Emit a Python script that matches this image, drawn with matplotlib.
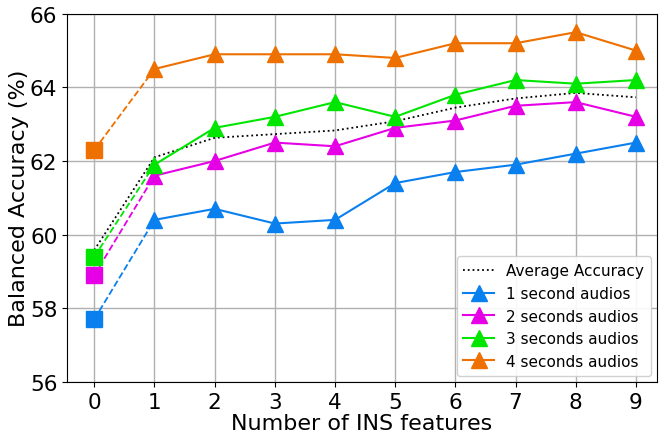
import matplotlib
matplotlib.use("Agg")
import matplotlib.pyplot as plt

# Number of INS features
n_features = [0, 1, 2, 3, 4, 5, 6, 7, 8, 9]

acc_1s = [57.7, 60.4, 60.7, 60.3, 60.4, 61.4, 61.7, 61.9, 62.2, 62.5]
acc_2s = [58.9, 61.6, 62.0, 62.5, 62.4, 62.9, 63.1, 63.5, 63.6, 63.2]
acc_3s = [59.4, 61.9, 62.9, 63.2, 63.6, 63.2, 63.8, 64.2, 64.1, 64.2]
acc_4s = [62.3, 64.5, 64.9, 64.9, 64.9, 64.8, 65.2, 65.2, 65.5, 65.0]
acc_avg = [59.58, 62.10, 62.63, 62.73, 62.83, 63.08, 63.45, 63.70, 63.85, 63.73]

labels = ["1 second audios", "2 seconds audios", "3 seconds audios", "4 seconds audios"]
colors = ["#0A80EE", "#E600E6", "#00E600", "#EE7000"]
series = [acc_1s, acc_2s, acc_3s, acc_4s]

fig = plt.figure(figsize=(6.59, 4.35), dpi=100)
ax = fig.add_axes([0.102, 0.12, 0.895, 0.846])

ax.plot(n_features, acc_avg, ":", color="black", lw=1.3, label="Average Accuracy", zorder=3)

for vals, col, lab in zip(series, colors, labels):
    # dashed link from baseline (square) to first INS point
    ax.plot(n_features[:2], vals[:2], "--", color=col, lw=1.3, zorder=3)
    ax.plot(n_features[0], vals[0], "s", color=col, ms=11, zorder=4)
    ax.plot(n_features[1:], vals[1:], "-^", color=col, lw=1.5, ms=12, label=lab, zorder=4)

ax.set_xlim(-0.45, 9.35)
ax.set_ylim(56, 66)
ax.set_xticks(n_features)
ax.set_yticks([56, 58, 60, 62, 64, 66])
ax.tick_params(labelsize=15.5)
ax.grid(True, color="#b0b0b0", lw=1)
ax.set_axisbelow(True)
ax.set_xlabel("Number of INS features", fontsize=16, labelpad=1)
ax.set_ylabel("Balanced Accuracy (%)", fontsize=16, labelpad=1)

ax.legend(loc="lower right", fontsize=11, framealpha=0.9, borderpad=0.45,
          handlelength=2.0, labelspacing=0.5, borderaxespad=0.4)

fig.savefig("out.png", dpi=100)
